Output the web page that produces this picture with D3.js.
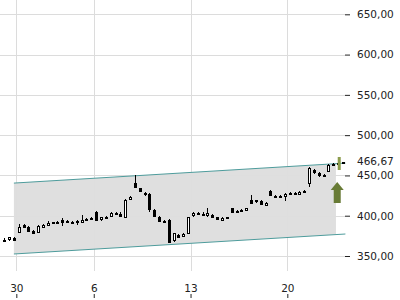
<!DOCTYPE html>
<html>
<head>
<meta charset="utf-8">
<script src="https://cdn.jsdelivr.net/npm/d3@7"></script>
<style>
  body { margin: 0; background: #fff; }
  svg { display: block; font-family: "DejaVu Sans", sans-serif; }
</style>
</head>
<body>
<script>
// ---------- data (intraday candles, 4 per trading day) ----------
var open  = [370,370,372,380,389,386,381,380,386,389,391,392,395,394,392,393,393,395,396,404,
             395,398,399,403,402,399,421,441,434,428,427,407,399,394,395,369,376,374,378,400,
             403,402,401,401,398,395,397,409,405,406,407,420,418,418,414,431,425,425,424,427,
             428,428,430,440,457,453,450,455,463,464,465];
var high  = [372,374,373,390,390,387,382,388,390,393,392,393,397,395,394,395,401,397,398,406,
             399,400,404,405,404,421,424,450,434,429,428,408,400,395,396,379,377,378,399,404,
             404,404,410,402,399,398,398,410,407,408,410,426,420,419,417,432,426,426,428,429,
             429,431,432,460,458,454,452,464,466,466,467];
var low   = [367,369,369,379,385,380,377,379,385,389,390,391,387,392,390,388,392,394,395,393,
             394,397,398,401,399,398,420,435,429,425,405,398,392,392,366,367,372,373,377,399,
             401,400,398,397,395,394,397,403,404,405,406,414,416,413,413,425,424,424,418,426,
             427,428,429,436,452,448,449,454,462,463,464];
var close = [369,373,370,386,386,381,379,387,389,391,392,392,393,393,392,394,395,396,397,394,
             398,399,403,402,400,420,423,436,430,427,408,400,394,393,368,378,373,377,398,403,
             402,401,403,398,396,397,398,404,406,407,409,416,419,414,416,426,425,424,427,428,
             428,430,431,459,454,450,451,463,464,465,466.67];

var yTicks = [350, 400, 450, 500, 550, 600, 650];
var xTickIdx = [3, 19, 39, 59];           // candle index where each day begins
var xTickLabels = ["30", "6", "13", "20"];

var channelIdx = [2.5, 71];               // trend channel start / end (candle index)
var channelTop = [440.5, 465.3];
var channelBottom = [352.5, 377.3];
var channelFillEnd = 69.05;
var lastPrice = 466.67;

// ---------- setup ----------
var W = 400, H = 300, plotRight = 345;
var svg = d3.select("body").append("svg").attr("width", W).attr("height", H);

var x = d3.scaleLinear().domain([0, open.length]).range([1.8, 345.4]);
var y = d3.scaleLinear().domain([350, 650]).range([256, 14.3]);

var de = d3.formatLocale({decimal: ",", thousands: ".", grouping: [3], currency: ["", " €"]});
var fmt = de.format(".2f");

// grid
svg.append("g").selectAll("line").data(yTicks).join("line")
  .attr("x1", 0).attr("x2", plotRight)
  .attr("y1", d => Math.round(y(d)) + 0.5).attr("y2", d => Math.round(y(d)) + 0.5)
  .attr("stroke", "#dcdcdc");
svg.append("g").selectAll("line").data(xTickIdx).join("line")
  .attr("x1", d => Math.round(x(d)) + 0.5).attr("x2", d => Math.round(x(d)) + 0.5)
  .attr("y1", 0).attr("y2", 271)
  .attr("stroke", "#dcdcdc");

// trend channel
var lerp = (a, t) => a[0] + (a[1] - a[0]) * (t - channelIdx[0]) / (channelIdx[1] - channelIdx[0]);
var fillPts = [[channelIdx[0], channelTop[0]], [channelFillEnd, lerp(channelTop, channelFillEnd)],
               [channelFillEnd, lerp(channelBottom, channelFillEnd)], [channelIdx[0], channelBottom[0]]];
svg.append("path")
  .attr("d", d3.line().x(d => x(d[0])).y(d => y(d[1]))(fillPts) + "Z")
  .attr("fill", "#dddddd").attr("fill-opacity", 0.95);
[channelTop, channelBottom].forEach(function (c) {
  svg.append("line")
    .attr("x1", x(channelIdx[0])).attr("x2", x(channelIdx[1]))
    .attr("y1", y(c[0])).attr("y2", y(c[1]))
    .attr("stroke", "#4e9c9c").attr("stroke-width", 1);
});

// candles
var idx = d3.range(open.length);
var cg = svg.append("g").attr("shape-rendering", "crispEdges");
cg.selectAll("line").data(idx).join("line")
  .attr("x1", i => Math.round(x(i + 0.5)) + 0.5).attr("x2", i => Math.round(x(i + 0.5)) + 0.5)
  .attr("y1", i => y(high[i])).attr("y2", i => y(low[i]))
  .attr("stroke", "#000");
cg.selectAll("rect").data(idx).join("rect")
  .attr("x", i => Math.round(x(i + 0.5)) - 0.5)
  .attr("width", 2)
  .attr("y", i => Math.round(y(Math.max(open[i], close[i]))) + 0.5)
  .attr("height", i => Math.max(1, Math.round(Math.abs(y(open[i]) - y(close[i])))))
  .attr("fill", i => close[i] >= open[i] ? "#fff" : "#000")
  .attr("stroke", "#000");

// up arrow and last price marker
var ax = x(open.length - 2), ay = y(lastPrice);
svg.append("path")
  .attr("d", "M" + (ax + 1.5) + ",182 L" + (ax + 8) + ",190 L" + (ax + 5) + ",190 L" + (ax + 5) + ",203 L"
        + (ax - 2) + ",203 L" + (ax - 2) + ",190 L" + (ax - 5) + ",190 Z")
  .attr("fill", "#687b36");
svg.append("rect").attr("x", ax + 2).attr("y", ay - 5).attr("width", 3).attr("height", 13)
  .attr("fill", "#8c9c4c");

// y axis
var yAxis = d3.axisRight(y).tickValues(yTicks).tickFormat(fmt).tickSize(5).tickPadding(7);
var gy = svg.append("g").attr("transform", "translate(" + plotRight + ",0)").call(yAxis);
gy.select(".domain").remove();
gy.selectAll("line").attr("stroke", "#222");
gy.selectAll("text").attr("font-size", 10.5).attr("fill", "#222").attr("font-family", "DejaVu Sans");

svg.append("text").attr("x", plotRight + 12).attr("y", y(lastPrice)).attr("dy", "0.32em")
  .attr("font-size", 10.5).attr("fill", "#222").text(fmt(lastPrice));

// x axis (labels sit above the ticks)
var xAxis = d3.axisTop(x).tickValues(xTickIdx).tickFormat((d, i) => xTickLabels[i]).tickSize(4).tickPadding(2);
var gx = svg.append("g").attr("transform", "translate(0,298)").call(xAxis);
gx.select(".domain").remove();
gx.selectAll("line").attr("stroke", "#222");
gx.selectAll("text").attr("font-size", 10.5).attr("fill", "#222").attr("font-family", "DejaVu Sans");
</script>
</body>
</html>
